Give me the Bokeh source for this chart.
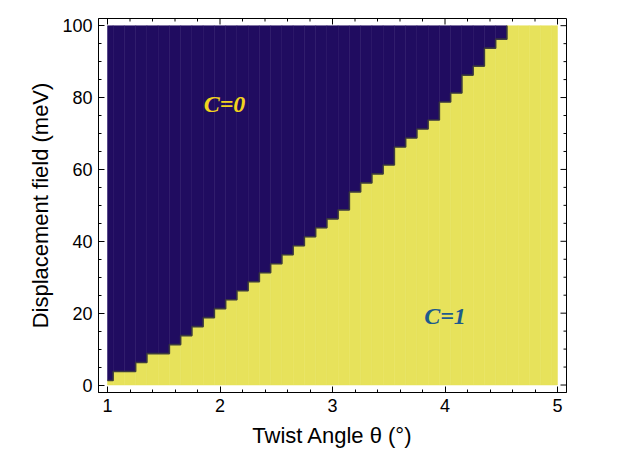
from bokeh.plotting import figure
from bokeh.models import Range1d, SingleIntervalTicker, Label
from bokeh.embed import file_html
from bokeh.resources import INLINE

# ---- data ----
# twist-angle grid (deg)
theta = [1.0, 1.1, 1.2, 1.3, 1.4, 1.5, 1.6, 1.7, 1.8, 1.9,
         2.0, 2.1, 2.2, 2.3, 2.4, 2.5, 2.6, 2.7, 2.8, 2.9,
         3.0, 3.1, 3.2, 3.3, 3.4, 3.5, 3.6, 3.7, 3.8, 3.9,
         4.0, 4.1, 4.2, 4.3, 4.4, 4.5, 4.6, 4.7, 4.8, 4.9, 5.0]
# displacement-field grid (meV)
d_field = [0.0, 2.5, 5.0, 7.5, 10.0, 12.5, 15.0, 17.5, 20.0, 22.5,
           25.0, 27.5, 30.0, 32.5, 35.0, 37.5, 40.0, 42.5, 45.0, 47.5,
           50.0, 52.5, 55.0, 57.5, 60.0, 62.5, 65.0, 67.5, 70.0, 72.5,
           75.0, 77.5, 80.0, 82.5, 85.0, 87.5, 90.0, 92.5, 95.0, 97.5, 100.0]
# first sampled displacement field in the C=0 phase for each twist angle
# (None: C=1 over the whole range)
d_crit = [2.5, 5.0, 5.0, 7.5, 10.0, 10.0, 12.5, 15.0, 17.5, 20.0,
          22.5, 25.0, 27.5, 30.0, 32.5, 35.0, 37.5, 40.0, 42.5, 45.0,
          47.5, 50.0, 55.0, 57.5, 60.0, 62.5, 67.5, 70.0, 72.5, 75.0,
          80.0, 82.5, 87.5, 90.0, 95.0, 97.5, None, None, None, None, None]
phase_labels = ["C=0", "C=1"]
x_major = [1, 2, 3, 4, 5]
y_major = [0, 20, 40, 60, 80, 100]

DARK = "#200c60"
YELLOW = "#e7e25b"

X0, X1 = 0.92, 5.08
Y0, Y1 = -2.08, 102.0
FW, FH = 468, 374

p = figure(width=615, height=459, output_backend="svg", toolbar_location=None,
           x_range=Range1d(X0, X1), y_range=Range1d(Y0, Y1),
           min_border_left=98, min_border_right=49, min_border_top=18,
           min_border_bottom=67)
p.background_fill_color = "white"
p.border_fill_color = "white"
p.outline_line_color = "black"
p.outline_line_width = 1
p.grid.visible = False

dx = theta[1] - theta[0]
dy = d_field[1] - d_field[0]
lefts, rights, bnds = [], [], []
for t, dc in zip(theta, d_crit):
    lefts.append(max(t - dx / 2, theta[0]))
    rights.append(min(t + dx / 2, theta[-1]))
    if dc is None:
        bnds.append(d_field[-1])
    else:
        bnds.append(min(max(dc - dy / 2, d_field[0]), d_field[-1]))

# C=1 cells (below the boundary)
p.quad(left=lefts, right=rights, bottom=[d_field[0]] * len(theta), top=bnds,
       fill_color=YELLOW, line_color=YELLOW, line_width=0.5)
# C=0 cells (above the boundary), only where that phase exists
idx = [i for i, dc in enumerate(d_crit) if dc is not None]
p.quad(left=[lefts[i] for i in idx], right=[rights[i] for i in idx],
       bottom=[bnds[i] for i in idx], top=[d_field[-1]] * len(idx),
       fill_color=DARK, line_color=DARK, line_width=0.5)

# phase boundary edge
bx, by = [], []
for l, r, b, dc in zip(lefts, rights, bnds, d_crit):
    if dc is None:
        bx += [l, l]
        by += [by[-1], d_field[-1]]
        break
    bx += [l, r]
    by += [b, b]
p.line(bx, by, line_color="#3a3a3a", line_width=1.6, line_alpha=0.9)

# phase labels
p.add_layout(Label(x=2.04, y=78.3, text=phase_labels[0], text_align="center",
                   text_baseline="middle", text_font="Liberation Serif",
                   text_font_style="bold italic", text_font_size="24px",
                   text_color="#f2d31e"))
p.add_layout(Label(x=4.0, y=19.2, text=phase_labels[1], text_align="center",
                   text_baseline="middle", text_font="Liberation Serif",
                   text_font_style="bold italic", text_font_size="24px",
                   text_color="#1d5b8c"))

# axes (bottom / left with labels, inward ticks)
for ax in (p.xaxis[0], p.yaxis[0]):
    ax.axis_line_color = "black"
    ax.major_tick_line_color = "black"
    ax.minor_tick_line_color = "black"
    ax.major_tick_in = 6
    ax.major_tick_out = 0
    ax.minor_tick_in = 3
    ax.minor_tick_out = 0
    ax.major_label_text_font = "Liberation Sans"
    ax.major_label_text_font_size = "18px"
    ax.major_label_text_color = "black"
    ax.major_label_standoff = 6
    ax.axis_label_text_font = "Liberation Sans"
    ax.axis_label_text_font_style = "normal"
    ax.axis_label_text_font_size = "22px"
    ax.axis_label_text_color = "black"

p.xaxis.ticker = SingleIntervalTicker(interval=1, num_minor_ticks=5)
p.yaxis.ticker = SingleIntervalTicker(interval=20, num_minor_ticks=4)
p.xaxis.axis_label = "Twist Angle θ (°)"
p.xaxis.axis_label_standoff = 8
p.yaxis.axis_label = "Displacement field (meV)"
p.yaxis.axis_label_standoff = 6

# frame ticks on top and right sides (inward)
px_x = FW / (X1 - X0)
px_y = FH / (Y1 - Y0)
x_minor = [x_major[i] + k * 0.2 for i in range(len(x_major) - 1) for k in range(1, 5)]
y_minor = [y_major[i] + k * 5 for i in range(len(y_major) - 1) for k in range(1, 4)]
tx, tl = [], []
for v in x_major:
    tx.append(v); tl.append(6)
for v in x_minor:
    tx.append(v); tl.append(3)
p.segment(x0=tx, x1=tx, y0=[Y1] * len(tx), y1=[Y1 - L / px_y for L in tl],
          line_color="black", line_width=1)
ty, tyl = [], []
for v in y_major:
    ty.append(v); tyl.append(6)
for v in y_minor:
    ty.append(v); tyl.append(3)
p.segment(x0=[X1] * len(ty), x1=[X1 - L / px_x for L in tyl], y0=ty, y1=ty,
          line_color="black", line_width=1)

open("out.html", "w").write(file_html(p, INLINE))
